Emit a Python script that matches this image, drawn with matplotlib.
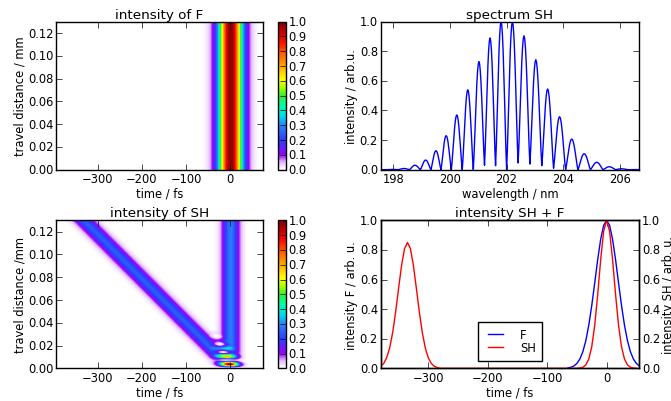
import numpy as np
import matplotlib
matplotlib.use('Agg')
import matplotlib.pyplot as plt
from matplotlib.colors import LinearSegmentedColormap

plt.style.use('classic')
plt.rcParams.update({
    'font.size': 8.3,
    'axes.titlesize': 9.7,
    'axes.titlepad': 3.0,
    'axes.labelpad': 1.0,
    'xtick.major.pad': 2.0,
    'ytick.major.pad': 2.0,
    'axes.formatter.useoffset': False,
    'figure.facecolor': 'white',
    'savefig.facecolor': 'white',
    'image.interpolation': 'bilinear',
})

# fundamental pulse at the exit
t_f = [-65, -60, -55, -50, -45, -40, -35, -30, -25, -20, -15, -10, -5, 0,
       5, 10, 15, 20, 25, 30, 35, 40, 45, 50, 55, 60, 65]
f_vals = [0.003, 0.007, 0.016, 0.033, 0.063, 0.112, 0.187, 0.292, 0.425, 0.578,
          0.735, 0.872, 0.966, 1.0, 0.966, 0.872, 0.735, 0.578, 0.425, 0.292,
          0.187, 0.112, 0.063, 0.033, 0.016, 0.007, 0.003]

# second harmonic at the exit: walked-off part and part under the fundamental
sh_left_t = [-390, -385, -380, -375, -370, -365, -360, -355, -350, -345, -340, -335,
             -330, -325, -320, -315, -310, -305, -300, -295, -290, -285, -280]
sh_left = [0.002, 0.005, 0.014, 0.033, 0.071, 0.137, 0.240, 0.378, 0.539, 0.694, 0.808,
           0.85, 0.808, 0.694, 0.539, 0.378, 0.240, 0.137, 0.071, 0.033, 0.014, 0.005, 0.0]
sh_right_t = [-50, -45, -40, -35, -30, -25, -20, -15, -10, -5, 0,
              5, 10, 15, 20, 25, 30, 35, 40, 45, 50]
sh_right = [0.0, 0.002, 0.007, 0.023, 0.063, 0.146, 0.292, 0.5, 0.735, 0.926, 1.0,
            0.926, 0.735, 0.5, 0.292, 0.146, 0.063, 0.023, 0.007, 0.002, 0.0]

# propagation
z_max = 0.13            # mm
walkoff_exit_t = -335   # fs, position of the walked-off SH at z_max
z_first_peak = 0.0032   # mm
coh_period = 0.007      # mm

# SH spectrum lobes
spec_peak_nm = [197.98, 198.38, 198.77, 199.15, 199.51, 199.86, 200.24, 200.63, 201.02,
                201.42, 201.80, 202.20, 202.61, 203.03, 203.45, 203.86, 204.30, 204.73,
                205.18, 205.62, 206.06, 206.50]
spec_peak = [0.002, 0.008, 0.03, 0.065, 0.128, 0.23, 0.37, 0.54, 0.73, 0.89, 1.0, 1.0,
             0.905, 0.743, 0.545, 0.358, 0.207, 0.108, 0.05, 0.02, 0.006, 0.001]
spec_min = [0, 0, 0, 0, 0, 0, 0, 0, 0, 0.03, 0.027, 0.0, 0.045, 0.038, 0.027, 0.01,
            0, 0, 0, 0, 0, 0, 0]
spec_xlim = (197.56, 206.68)

cmap = LinearSegmentedColormap.from_list('pulse', [
    (0.0, '#ffffff'), (0.05, '#e2b8ff'), (0.1, '#9a00ff'), (0.2, '#2a40ff'),
    (0.3, '#2a86f8'), (0.36, '#00d8f0'), (0.43, '#00ffa8'), (0.5, '#30f030'),
    (0.55, '#a0ff00'), (0.61, '#ffff00'), (0.7, '#ffaa00'), (0.8, '#ff5000'),
    (0.86, '#ff1000'), (0.92, '#d00000'), (1.0, '#800000')])

# image grids
t_grid = np.linspace(-395, 75, 471)
z_grid = np.linspace(0, z_max, 261)
extent = [t_grid[0], t_grid[-1], 0, z_max]

F_img = np.tile(np.interp(t_grid, t_f, f_vals, left=0, right=0), (len(z_grid), 1))

td = walkoff_exit_t * z_grid / z_max
Ev = np.sqrt(np.interp(t_grid, sh_right_t, sh_right, left=0, right=0))
Ed = np.sqrt(np.interp(t_grid[None, :] - td[:, None] + walkoff_exit_t,
                       sh_left_t, sh_left, left=0, right=0))
phi = 2 * np.pi * (z_grid - z_first_peak) / coh_period
E = Ev[None, :] + Ed * np.exp(1j * phi[:, None])
SH_img = np.abs(E) ** 2
SH_img = SH_img / SH_img.max()

# spectrum curve built lobe by lobe
pk = np.array(spec_peak_nm)
mins_x = np.concatenate([[pk[0] - (pk[1] - pk[0]) / 2], (pk[1:] + pk[:-1]) / 2,
                         [pk[-1] + (pk[-1] - pk[-2]) / 2]])
wl = [spec_xlim[0]]
sp = [0.0]
for i in range(len(pk)):
    s = np.linspace(0, 1, 17)[:-1]
    base = spec_min[i] + (spec_min[i + 1] - spec_min[i]) * s
    top = spec_peak[i] - (spec_min[i] + spec_min[i + 1]) / 2
    wl.extend(mins_x[i] + (mins_x[i + 1] - mins_x[i]) * s)
    sp.extend(base + top * np.sin(np.pi * s) ** 1.25)
wl.append(spec_xlim[1])
sp.append(0.0)

fig = plt.figure(figsize=(6.71, 4.02), dpi=100)
ax1 = fig.add_axes([0.0835, 0.5754, 0.3085, 0.3682])
cax1 = fig.add_axes([0.4139, 0.5754, 0.0119, 0.3682])
ax2 = fig.add_axes([0.5674, 0.5754, 0.3854, 0.3682])
ax3 = fig.add_axes([0.0835, 0.0813, 0.3085, 0.3682])
cax3 = fig.add_axes([0.4139, 0.0813, 0.0119, 0.3682])
ax4 = fig.add_axes([0.5674, 0.0813, 0.3854, 0.3682])

cticks = np.arange(0, 1.01, 0.1)
zticks = np.arange(0, 0.121, 0.02)

im1 = ax1.imshow(F_img, origin='lower', extent=extent, aspect='auto',
                 cmap=cmap, vmin=0, vmax=1)
ax1.set_title('intensity of F')
ax1.set_xlabel('time / fs')
ax1.set_ylabel('travel distance / mm')
ax1.set_yticks(zticks)
ax1.set_xticks([-300, -200, -100, 0])
fig.colorbar(im1, cax=cax1, ticks=cticks, format='%.1f')

ax2.plot(wl, sp, color='b', lw=1)
ax2.set_xlim(spec_xlim)
ax2.set_ylim(0, 1)
ax2.set_xticks([198, 200, 202, 204, 206])
ax2.set_title('spectrum SH')
ax2.set_xlabel('wavelength / nm')
ax2.set_ylabel('intensity / arb.u.')

im3 = ax3.imshow(SH_img, origin='lower', extent=extent, aspect='auto',
                 cmap=cmap, vmin=0, vmax=1)
ax3.set_title('intensity of SH')
ax3.set_xlabel('time / fs')
ax3.set_ylabel('travel distance /mm')
ax3.set_yticks(zticks)
ax3.set_xticks([-300, -200, -100, 0])
fig.colorbar(im3, cax=cax3, ticks=cticks, format='%.1f')

lf, = ax4.plot(t_f, f_vals, color='b', lw=1, label='F')
ax4.set_xlim(-380, 55)
ax4.set_ylim(0, 1)
ax4.set_title('intensity SH + F')
ax4.set_xlabel('time / fs')
ax4.set_ylabel('intensity F / arb. u.')
ax4b = ax4.twinx()
lsh, = ax4b.plot(sh_left_t + sh_right_t, sh_left + sh_right, color='r', lw=1, label='SH')
ax4b.set_xlim(-380, 55)
ax4b.set_ylim(0, 1)
ax4b.set_ylabel('intensity SH / arb. u.')
ax4b.legend([lf, lsh], ['F', 'SH'], loc='lower center', fontsize=8.3,
            borderpad=0.55, labelspacing=0.05, handlelength=1.9,
            handletextpad=1.2, borderaxespad=0.65)

fig.savefig('out.png', dpi=100)
